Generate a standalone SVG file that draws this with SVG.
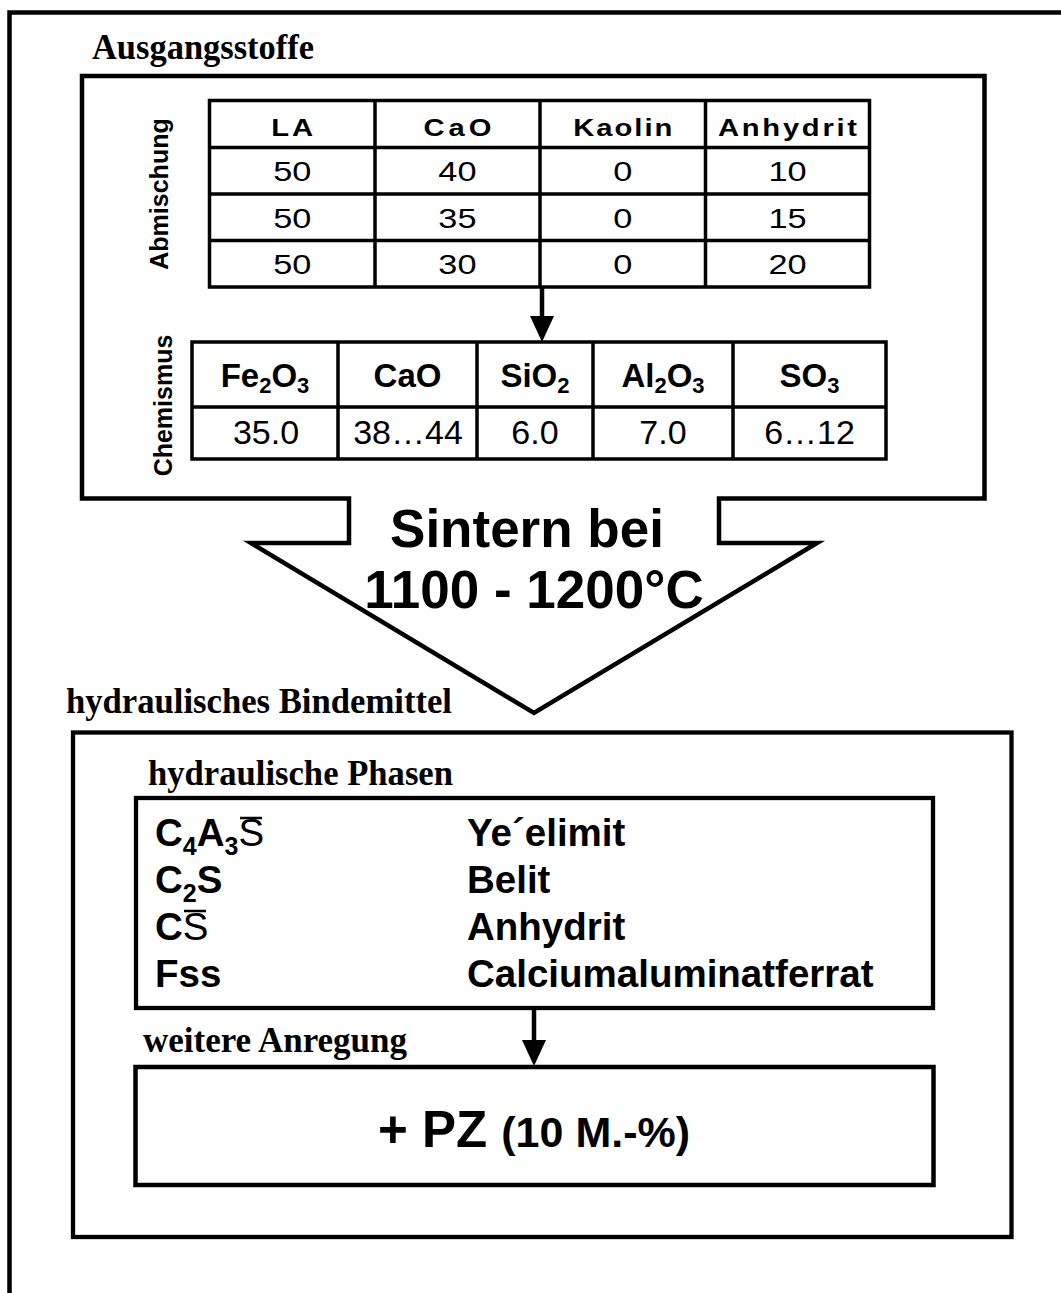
<svg xmlns="http://www.w3.org/2000/svg" width="1061" height="1293" viewBox="0 0 1061 1293">
<defs>
<style>
.ln{fill:none;stroke:#000;stroke-linejoin:miter}
.ser{font-family:"Liberation Serif","Times New Roman",serif;font-weight:bold;font-size:35px;fill:#000}
.sans{font-family:"Liberation Sans",Arial,sans-serif;fill:#000}
.b{font-weight:bold}
.mid{text-anchor:middle}
.th{font-size:23px;font-weight:bold}
.tv{font-size:27px}
.ch{font-size:33px;font-weight:bold}
.cv{font-size:34px}
.sub2{font-size:22px}
.ph{font-size:38.5px;font-weight:bold}
.sub3{font-size:25px}
.rot{font-size:25px;font-weight:bold}
</style>
<marker id="ah" markerUnits="userSpaceOnUse" viewBox="0 0 26 24" markerWidth="26" markerHeight="24" refX="0" refY="12" orient="auto">
<path d="M0 0 L26 12 L0 24 Z" fill="#000"/>
</marker>
</defs>
<rect width="1061" height="1293" fill="#fff"/>

<g id="frame">
<path class="ln" stroke-width="4.5" d="M9.5 1293 V12.5 H1061"/>
</g>

<g id="ausgangsstoffe">
<text class="ser" x="92" y="58.5" textLength="222" lengthAdjust="spacingAndGlyphs">Ausgangsstoffe</text>
<path class="ln" stroke-width="4.5" d="M82 76 H984.5 V498.5 H719 V543 H817 L534 713 L251 543 H349 V498.5 H82 Z"/>
</g>

<g id="table-abmischung">
<text class="sans rot mid" transform="translate(168 194) rotate(-90)">Abmischung</text>
<g class="ln" stroke-width="3.5">
<rect x="209.5" y="100.5" width="660" height="186.5"/>
<path d="M209.5 147.5 H869.5 M209.5 194 H869.5 M209.5 240.5 H869.5 M375 100.5 V287 M540 100.5 V287 M705.5 100.5 V287"/>
</g>
<g class="sans mid" transform="scale(1.27 1)">
<text class="th" x="230.1" y="136" textLength="33">LA</text>
<text class="th" x="360.2" y="136" textLength="53.5">CaO</text>
<text class="th" x="490.4" y="136" textLength="78">Kaolin</text>
<text class="th" x="620.1" y="136" textLength="109.5">Anhydrit</text>
<text class="tv" x="230.1" y="181">50</text>
<text class="tv" x="360.2" y="181">40</text>
<text class="tv" x="490.4" y="181">0</text>
<text class="tv" x="620.1" y="181">10</text>
<text class="tv" x="230.1" y="228">50</text>
<text class="tv" x="360.2" y="228">35</text>
<text class="tv" x="490.4" y="228">0</text>
<text class="tv" x="620.1" y="228">15</text>
<text class="tv" x="230.1" y="274">50</text>
<text class="tv" x="360.2" y="274">30</text>
<text class="tv" x="490.4" y="274">0</text>
<text class="tv" x="620.1" y="274">20</text>
</g>
</g>

<g id="table-chemismus">
<text class="sans rot mid" transform="translate(172 405.5) rotate(-90)">Chemismus</text>
<g class="ln" stroke-width="3.5">
<rect x="192" y="342" width="694" height="117"/>
<path d="M192 407 H886 M338 342 V459 M477 342 V459 M593 342 V459 M733 342 V459"/>
</g>
<g class="sans mid">
<text class="ch" x="265" y="387">Fe<tspan class="sub2" dy="6">2</tspan><tspan dy="-6">O</tspan><tspan class="sub2" dy="6">3</tspan></text>
<text class="ch" x="407.5" y="387">CaO</text>
<text class="ch" x="535" y="387">SiO<tspan class="sub2" dy="6">2</tspan></text>
<text class="ch" x="663" y="387">Al<tspan class="sub2" dy="6">2</tspan><tspan dy="-6">O</tspan><tspan class="sub2" dy="6">3</tspan></text>
<text class="ch" x="809.5" y="387">SO<tspan class="sub2" dy="6">3</tspan></text>
<text class="cv" x="266" y="444">35.0</text>
<text class="cv" x="408" y="444">38…44</text>
<text class="cv" x="535" y="444">6.0</text>
<text class="cv" x="663" y="444">7.0</text>
<text class="cv" x="809.5" y="444">6…12</text>
</g>
</g>

<g id="sintern">
<text class="sans b mid" font-size="53" x="527" y="547">Sintern bei</text>
<text class="sans b mid" font-size="53" x="534" y="608">1100 - 1200°C</text>
</g>

<g id="bindemittel">
<text class="ser" x="66" y="713" textLength="386" lengthAdjust="spacingAndGlyphs">hydraulisches Bindemittel</text>
<rect class="ln" stroke-width="4.3" x="73" y="732.5" width="938.5" height="504.5"/>
</g>

<g id="phasen">
<text class="ser" x="148" y="785" textLength="305" lengthAdjust="spacingAndGlyphs">hydraulische Phasen</text>
<rect class="ln" stroke-width="4.3" x="136" y="798" width="797" height="210"/>
<g class="sans">
<text class="ph" x="155" y="846">C<tspan class="sub3" dy="9">4</tspan><tspan dy="-9">A</tspan><tspan class="sub3" dy="9">3</tspan><tspan dy="-9" font-weight="normal">S</tspan></text>
<text class="ph" x="155" y="893">C<tspan class="sub3" dy="9">2</tspan><tspan dy="-9">S</tspan></text>
<text class="ph" x="155" y="940">C<tspan font-weight="normal">S</tspan></text>
<text class="ph" x="155" y="987">Fss</text>
<text class="ph" x="467" y="846">Ye´elimit</text>
<text class="ph" x="467" y="893">Belit</text>
<text class="ph" x="467" y="940">Anhydrit</text>
<text class="ph" x="467" y="987">Calciumaluminatferrat</text>
</g>
<path class="ln" stroke-width="2.7" d="M240 818 H262 M184 911 H206"/>
</g>

<g id="pz">
<text class="ser" x="143" y="1052" textLength="264" lengthAdjust="spacingAndGlyphs">weitere Anregung</text>
<rect class="ln" stroke-width="4.5" x="135.5" y="1067" width="798" height="118"/>
<text class="sans b mid" x="534" y="1147"><tspan font-size="51">+ PZ </tspan><tspan font-size="43">(10 M.-%)</tspan></text>
</g>

<g id="connectors">
<path class="ln" stroke-width="4.5" d="M542 287 V316" marker-end="url(#ah)"/>
<path class="ln" stroke-width="4.5" d="M534 1008 V1040" marker-end="url(#ah)"/>
</g>
</svg>
